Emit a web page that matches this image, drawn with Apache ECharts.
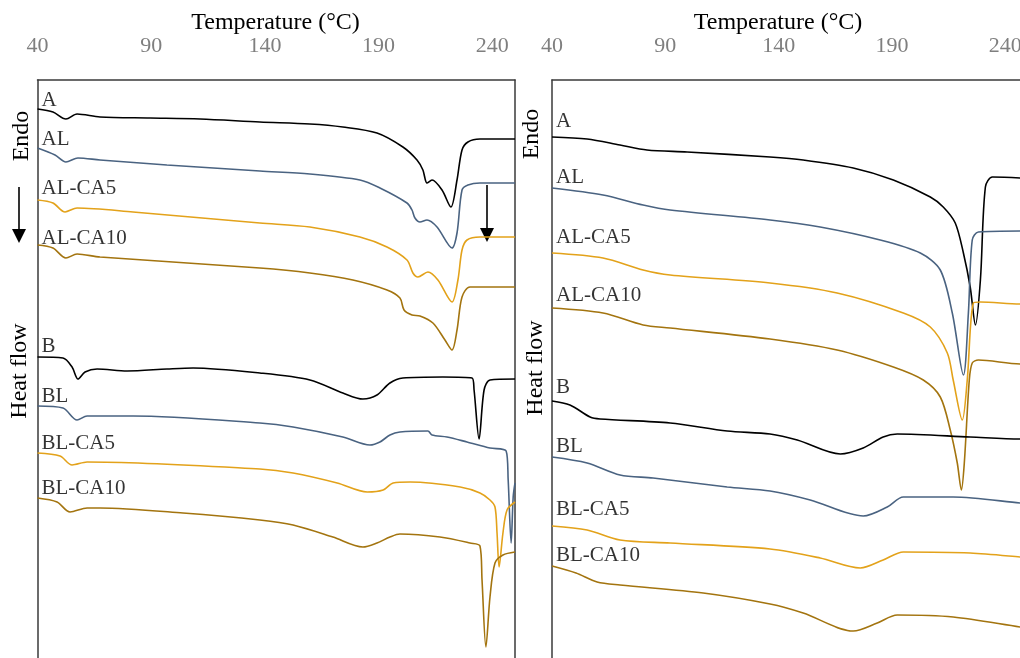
<!DOCTYPE html>
<html><head><meta charset="utf-8">
<script src="https://cdn.jsdelivr.net/npm/echarts@6/dist/echarts.min.js"></script>
<style>html,body{margin:0;padding:0;background:#fff}#c{width:1020px;height:658px}</style>
</head><body><div id="c"></div>
<script>
// Temperature (°C) vs heat flow (arbitrary units, curves offset vertically)
const xTicks = [40, 90, 140, 190, 240];
const names = ['A', 'AL', 'AL-CA5', 'AL-CA10', 'B', 'BL', 'BL-CA5', 'BL-CA10'];
const colors = ['#000000', '#4a6381', '#e3a21a', '#a3740f', '#000000', '#4a6381', '#e3a21a', '#a3740f'];

// Left panel
const leftA = [[40,54.9],[46.8,54.6],[52.5,53.9],[57.4,54.4],[67.5,54.1],[89.5,54.0],[111.5,53.9],[137.8,53.6],[159.8,53.4],[174.3,53.1],[189.3,52.5],[200.7,51.1],[206.9,49.8],[209.5,48.8],[211.3,47.5],[213.5,47.8],[217.9,46.8],[221.8,45.1],[224.5,47.8],[226.7,50.8],[229.3,51.6],[234.6,51.9],[250,51.9]];
const leftAL = [[40,51.0],[47.7,50.3],[52.5,49.6],[57.8,50.0],[67.5,49.8],[96.9,49.3],[137.8,48.7],[159.8,48.4],[181.8,47.8],[190.6,47.0],[202.5,45.5],[204.7,44.8],[206.0,44.0],[208.2,43.6],[211.3,43.8],[215.7,43.1],[222.3,41.0],[224.5,42.5],[226.7,46.8],[229.3,47.3],[234.6,47.5],[250,47.5]];
const leftALCA5 = [[40,45.8],[46.8,45.5],[52.1,44.6],[57.4,45.0],[82.0,44.6],[137.8,43.5],[159.8,43.1],[181.8,42.1],[193.7,41.1],[202.5,39.8],[205.1,38.5],[207.3,38.1],[211.7,38.6],[216.1,37.8],[222.3,35.6],[224.9,37.8],[226.7,40.8],[228.9,41.8],[234.6,42.1],[250,42.1]];
const leftALCA10 = [[40,41.3],[46.8,41.0],[52.5,40.0],[57.4,40.4],[67.5,40.1],[137.8,39.0],[159.8,38.5],[178.7,37.8],[193.7,36.8],[199.4,36.0],[201.2,34.8],[204.7,34.3],[208.2,34.2],[213.9,33.5],[219.2,31.8],[222.3,30.8],[224.5,32.8],[226.7,36.1],[230.2,37.1],[250,37.1]];
const leftB = [[40,30.1],[51.2,30.0],[55.2,29.1],[57.8,27.9],[60.9,28.6],[66.2,28.9],[79.4,28.7],[96.9,28.9],[108.4,29.0],[137.8,28.5],[159.8,27.8],[174.3,26.5],[183.1,25.9],[189.3,26.3],[195.0,27.5],[200.7,28.0],[218.3,28.1],[231.1,28.0],[232.0,26.8],[234.2,21.9],[236.4,26.8],[239.0,27.8],[250,27.9]];
const leftBL = [[40,25.2],[51.2,25.0],[57.4,23.8],[61.8,24.2],[82.0,24.2],[137.8,23.5],[152.4,23.1],[174.3,22.1],[186.2,21.3],[190.6,21.6],[195.0,22.3],[199.4,22.6],[211.7,22.7],[213.5,22.3],[220.1,22.1],[228.9,21.6],[239.0,21.0],[246.1,20.7],[247.0,17.8],[248.3,11.5],[249.2,16.1],[250,17.5]];
const leftBLCA5 = [[40,20.5],[49.9,20.2],[55.2,19.3],[61.8,19.6],[137.8,18.9],[152.4,18.5],[171.8,17.5],[185.0,16.6],[192.0,16.8],[196.4,17.5],[203.9,17.6],[225.9,17.1],[234.6,16.5],[239.0,15.8],[241.2,15.1],[242.1,12.5],[243.0,9.1],[244.7,12.5],[246.5,14.8],[250,15.6]];
const leftBLCA10 = [[40,16.0],[48.6,15.6],[54.3,14.6],[61.8,15.0],[67.5,15.0],[104.0,14.5],[137.8,13.8],[152.4,13.3],[169.9,12.1],[183.1,11.1],[189.3,11.5],[195.0,12.1],[199.4,12.4],[217.0,12.1],[230.2,11.5],[234.6,11.2],[235.5,7.8],[237.2,1.1],[239.0,6.1],[241.2,9.5],[244.7,10.3],[250,10.6]];

// Right panel
const rightA = [[40,52.1],[55.5,51.9],[70.0,51.3],[81.9,50.8],[99.6,50.6],[136.2,50.1],[150.8,49.8],[172.9,49.0],[190.6,47.8],[206.9,46.1],[212.6,45.1],[217.9,43.5],[221.5,40.5],[224.5,37.1],[226.8,33.3],[229.0,37.8],[231.2,47.1],[234.3,48.1],[246.6,48.0],[250,47.9]];
const rightAL = [[40,47.0],[62.5,46.3],[80.2,45.3],[92.1,44.8],[136.2,43.8],[158.3,43.1],[184.8,41.8],[202.5,40.5],[211.3,38.8],[216.6,34.5],[221.5,28.3],[223.7,34.5],[225.4,41.8],[228.1,42.6],[246.6,42.7],[250,42.7]];
const rightALCA5 = [[40,40.5],[62.5,40.0],[80.2,38.8],[92.1,38.3],[136.2,37.5],[165.8,36.5],[195.0,34.5],[206.9,33.1],[214.4,30.5],[217.0,27.8],[221.0,23.8],[223.2,27.8],[225.9,35.5],[229.0,35.6],[246.6,35.4],[250,35.4]];
const rightALCA10 = [[40,35.0],[62.5,34.5],[80.2,33.3],[92.1,33.0],[136.2,31.9],[165.8,30.8],[190.6,29.1],[203.8,27.8],[211.3,26.1],[215.7,22.8],[218.8,19.5],[220.6,16.8],[221.9,19.5],[224.1,27.8],[225.4,29.5],[228.1,29.8],[246.6,29.4],[250,29.4]];
const rightB = [[40,25.7],[47.9,25.3],[56.8,24.1],[61.2,23.9],[92.1,23.5],[117.3,22.7],[136.2,22.4],[148.2,21.8],[167.2,20.4],[177.3,21.0],[186.1,22.1],[192.3,22.4],[224.5,22.1],[246.6,21.9],[250,21.9]];
const rightBL = [[40,20.1],[55.5,19.5],[70.0,18.3],[84.6,18.0],[117.3,17.1],[136.2,16.7],[153.9,15.8],[177.3,14.2],[187.9,15.1],[195.0,16.1],[217.0,16.1],[246.6,15.5],[250,15.4]];
const rightBLCA5 = [[40,13.2],[55.5,12.8],[70.0,11.8],[92.1,11.5],[136.2,10.9],[158.3,10.0],[176.0,9.0],[186.1,9.8],[195.0,10.6],[224.5,10.5],[246.6,10.1],[250,10.0]];
const rightBLCA10 = [[40,9.2],[50.6,8.5],[59.9,7.6],[70.0,7.3],[106.7,6.5],[136.2,5.4],[150.8,4.5],[172.9,2.7],[183.5,3.5],[192.3,4.3],[217.0,4.1],[246.6,3.1],[250,3.0]];

const leftSets = [leftA, leftAL, leftALCA5, leftALCA10, leftB, leftBL, leftBLCA5, leftBLCA10];
const rightSets = [rightA, rightAL, rightALCA5, rightALCA10, rightB, rightBL, rightBLCA5, rightBLCA10];
// vertical offset (px) of each curve name above its curve start
const leftLabelLift = [9, 9, 12, 7, 11, 10, 10, 10];
const rightLabelLift = [16, 11, 16, 13, 14, 11, 17, 11];

const FONT = '"Liberation Serif", "DejaVu Serif", serif';
const lineSt = { color: '#3a3a3a', width: 1.5 };

function xAx(grid) {
  return {
    type: 'value', gridIndex: grid, min: 40, max: 250, position: 'top',
    axisLine: { show: true, onZero: false, lineStyle: lineSt }, axisTick: { show: false }, splitLine: { show: false },
    axisLabel: { customValues: xTicks, color: '#7f7f7f', fontSize: 22, fontFamily: FONT, margin: 23 }
  };
}
function yAx(grid, pos) {
  return {
    type: 'value', gridIndex: grid, min: 0, max: 57.8, position: pos,
    axisLine: { show: true, onZero: false, lineStyle: lineSt }, axisTick: { show: false },
    axisLabel: { show: false }, splitLine: { show: false }
  };
}

const series = [];
function addPanel(sets, lifts, xi, yi) {
  sets.forEach((d, i) => {
    series.push({
      type: 'line', xAxisIndex: xi, yAxisIndex: yi, data: d, showSymbol: false, symbol: 'none',
      smooth: 0.3, lineStyle: { color: colors[i], width: 1.6 }, silent: true, animation: false, z: 3
    });
  });
  series.push({
    type: 'scatter', xAxisIndex: xi, yAxisIndex: yi, symbolSize: 0, silent: true, animation: false,
    data: sets.map((d, i) => ({
      value: d[0], name: names[i],
      label: { show: true, position: 'right', distance: 4, offset: [0, -lifts[i]], formatter: names[i],
        color: '#000', fontSize: 21, fontFamily: FONT }
    }))
  });
}
addPanel(leftSets, leftLabelLift, 0, 0);
addPanel(rightSets, rightLabelLift, 1, 2);

function vtext(txt, x, y) {
  return { type: 'text', x: x, y: y, rotation: Math.PI / 2,
    style: { text: txt, x: 0, y: 0, align: 'center', verticalAlign: 'middle', fill: '#000', fontSize: 24, fontFamily: FONT } };
}
function htext(txt, x, y) {
  return { type: 'text', x: x, y: y,
    style: { text: txt, x: 0, y: 0, align: 'center', verticalAlign: 'middle', fill: '#000', fontSize: 24, fontFamily: FONT } };
}
function arrow(x, y1, y2) {
  return [
    { type: 'line', shape: { x1: x, y1: y1, x2: x, y2: y2 - 12 }, style: { stroke: '#000', lineWidth: 1.6 } },
    { type: 'polygon', shape: { points: [[x - 7, y2 - 14], [x + 7, y2 - 14], [x, y2]] }, style: { fill: '#000' } }
  ];
}

const chart = echarts.init(document.getElementById('c'), null, { renderer: 'canvas' });
chart.setOption({
  animation: false,
  backgroundColor: '#fff',
  grid: [
    { left: 37.5, top: 80, width: 477.5, height: 578, outerBoundsMode: 'none', containLabel: false },
    { left: 552, top: 80, width: 476, height: 578, outerBoundsMode: 'none', containLabel: false }
  ],
  xAxis: [xAx(0), xAx(1)],
  yAxis: [yAx(0, 'left'), yAx(0, 'right'), yAx(1, 'left')],
  series: series,
  graphic: [
    htext('Temperature (°C)', 275.5, 23),
    htext('Temperature (°C)', 778, 23),
    vtext('Endo', 22, 136),
    vtext('Heat flow', 20, 371),
    vtext('Endo', 532, 134),
    vtext('Heat flow', 536, 368)
  ].concat(arrow(19, 187, 243), arrow(487, 185, 242))
});
</script></body></html>
